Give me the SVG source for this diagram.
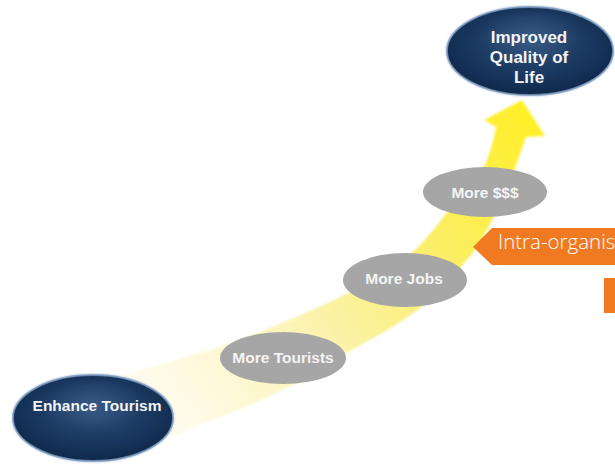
<svg xmlns="http://www.w3.org/2000/svg" width="615" height="465" viewBox="0 0 615 465">
  <defs>
    <style>
      .navy { fill: url(#navyGrad); stroke: #7F9CC0; stroke-width: 1.8; stroke-opacity: 0.8; }
      .hl { fill: url(#hlGrad); }
      .gray { fill: #A6A6A6; }
      .lbl { font-family: "Liberation Sans", Arial, sans-serif; font-weight: bold; fill: #F4F4F4; text-anchor: middle; }
      .orange { fill: #EF7A22; }
      .call { font-family: "Open Sans", "Liberation Sans", sans-serif; font-weight: 300; font-size: 20.5px; fill: #FFFFFF; }
    </style>
    <radialGradient id="navyGrad" cx="50%" cy="42%" r="62%">
      <stop offset="0" stop-color="#2E4F79"/>
      <stop offset="0.55" stop-color="#1A3961"/>
      <stop offset="1" stop-color="#0D2546"/>
    </radialGradient>
    <radialGradient id="hlGrad" cx="50%" cy="50%" r="50%">
      <stop offset="0" stop-color="#3F6290" stop-opacity="0.55"/>
      <stop offset="1" stop-color="#3F6290" stop-opacity="0"/>
    </radialGradient>
    <linearGradient id="bandGrad" gradientUnits="userSpaceOnUse" x1="520" y1="105" x2="90" y2="430">
      <stop offset="0" stop-color="#FFF02A"/>
      <stop offset="0.2" stop-color="#FCEE52"/>
      <stop offset="0.38" stop-color="#FBEF80"/>
      <stop offset="0.58" stop-color="#FCF4B6"/>
      <stop offset="0.8" stop-color="#FEFAE2"/>
      <stop offset="1" stop-color="#FFFFFF"/>
    </linearGradient>
    <filter id="soft" x="-5%" y="-5%" width="110%" height="110%">
      <feGaussianBlur stdDeviation="0.8"/>
    </filter>
    <filter id="glow" x="-10%" y="-10%" width="120%" height="120%">
      <feGaussianBlur stdDeviation="1.2"/>
    </filter>
  </defs>

  <rect width="615" height="465" fill="#FFFFFF"/>

  <g id="connectors">
    <path filter="url(#soft)" fill="url(#bandGrad)" d="M496,127 L484,120 L522,100 L545,136 L526,137 L515,168 C505,190 498,208 492,220 C484,236 476,250 465,262 C452,278 440,292 427,303 C405,320 380,335 357,347 C338,358 320,370 300,381 C272,396 245,408 217,418 C195,427 172,437 150,445 C130,452 115,458 100,462 L60,462 L70,392 C90,386 112,378 133,372 C160,364 185,357 210,350 C233,343 255,334 277,325 C302,314 327,304 350,292 C373,279 397,266 415,250 C427,238 436,227 445,215 C460,198 474,183 485,165 C490,152 494,140 496,127 Z"/>
  </g>

  <g id="node-enhance">
    <ellipse cx="93" cy="418" rx="81" ry="44" fill="#A9BFD8" filter="url(#glow)"/>
    <ellipse class="navy" cx="93" cy="418" rx="80" ry="43"/>
    <ellipse class="hl" cx="93" cy="404" rx="50" ry="26"/>
    <text class="lbl" x="97" y="411" font-size="15.5">Enhance Tourism</text>
  </g>

  <g id="node-tourists">
    <ellipse class="gray" cx="283" cy="358" rx="63" ry="26"/>
    <text class="lbl" x="283" y="363" font-size="15.5">More Tourists</text>
  </g>

  <g id="node-jobs">
    <ellipse class="gray" cx="405" cy="280" rx="62" ry="27"/>
    <text class="lbl" x="404" y="284" font-size="15.5">More Jobs</text>
  </g>

  <g id="node-money">
    <ellipse class="gray" cx="485" cy="192" rx="62" ry="25"/>
    <text class="lbl" x="485" y="198" font-size="15.5">More $$$</text>
  </g>

  <g id="node-quality">
    <ellipse cx="530" cy="51" rx="84" ry="45" fill="#A9BFD8" filter="url(#glow)"/>
    <ellipse class="navy" cx="530" cy="51" rx="83" ry="44"/>
    <ellipse class="hl" cx="530" cy="36" rx="52" ry="27"/>
    <text class="lbl" x="529" y="43" font-size="17">Improved</text>
    <text class="lbl" x="529" y="63" font-size="17">Quality of</text>
    <text class="lbl" x="529" y="83" font-size="17">Life</text>
  </g>

  <g id="node-callout">
    <polygon class="orange" points="473,247 492,228 615,228 615,265 492,265"/>
    <text class="call" x="498" y="249">Intra-organis</text>
  </g>

  <g id="node-orange-box">
    <rect class="orange" x="604" y="278" width="11" height="35"/>
  </g>
</svg>
